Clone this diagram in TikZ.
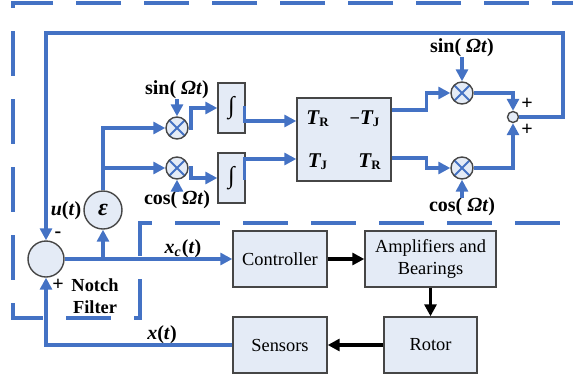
\documentclass[tikz,border=0pt]{standalone}
\usepackage{fontspec}
\setmainfont{Liberation Serif}
\usetikzlibrary{arrows.meta,calc}
\definecolor{lineblue}{RGB}{68,114,196}
\definecolor{boxfill}{RGB}{228,235,246}
\definecolor{boxdraw}{RGB}{70,70,70}
\newcommand{\Tm}[1]{{\fontsize{10.5}{12}\selectfont\bfseries\itshape T}\textsubscript{\bfseries #1}}
\newcommand{\fnoft}[1]{\textbf{\textit{#1}(\textit{t})}}
\tikzset{
  blk/.style={draw=boxdraw,fill=boxfill,line width=0.7pt,inner sep=0pt,align=center},
  sig/.style={draw=lineblue,line width=1.6pt,-{Triangle[length=6pt,width=6pt]}},
  pw/.style={draw=black,line width=1.6pt,-{Triangle[length=6pt,width=6pt]}},
  mult/.style={blk,circle,minimum size=11pt,path picture={
    \draw[lineblue,line width=0.9pt] (path picture bounding box.north west) -- (path picture bounding box.south east)
      (path picture bounding box.north east) -- (path picture bounding box.south west);}},
  lbl/.style={font=\bfseries,inner sep=0pt},
}
\begin{document}
\begin{tikzpicture}[x=0.5pt,y=-0.5pt,every node/.style={font=\fontsize{9.2}{11}\selectfont}]
\useasboundingbox (0,0) rectangle (573,376);
% notch filter boundary
\draw[lineblue,line width=1.6pt,dash pattern=on 22.5pt off 11.5pt,dash phase=12pt]
  (573,3) -- (13,3) -- (13,318) -- (140,318) -- (140,223) -- (573,223);
% blocks
\node[blk,circle,minimum size=18pt] (sum1) at (46,259) {};
\node[blk,circle,minimum size=19pt,font=\fontsize{12}{12}\selectfont] (eps) at (103,210) {\textbf{\textit{ε}}};
\node[mult] (msin1) at (177,128) {};
\node[mult] (mcos1) at (177,168) {};
\node[blk,minimum width=13.5pt,minimum height=25pt,font=\fontsize{12}{12}\selectfont] (int1) at (231.5,108) {∫};
\node[blk,minimum width=13.5pt,minimum height=25pt,font=\fontsize{12}{12}\selectfont] (int2) at (231.5,178) {∫};
\node[blk,minimum width=47pt,minimum height=41.5pt] (mat) at (344,139.5) {};
\node (t11) at (318,119) {\Tm{R}};
\node (t12) at (365,119) {\textbf{−}\Tm{J}};
\node (t21) at (318,162) {\Tm{J}};
\node (t22) at (370,162) {\Tm{R}};
\node[mult] (msin2) at (462,93) {};
\node[mult] (mcos2) at (462,168) {};
\node[blk,circle,minimum size=5.5pt] (jsum) at (513,117) {};
\node[blk,minimum width=47pt,minimum height=28pt] (ctrl) at (280,259) {Controller};
\node[blk,minimum width=65.5pt,minimum height=28pt] (amp) at (430.5,259) {Amplifiers and\\Bearings};
\node[blk,minimum width=46.5pt,minimum height=28pt] (rotor) at (430.5,345) {Rotor};
\node[blk,minimum width=47pt,minimum height=28pt] (sens) at (280,345) {Sensors};
% labels
\node[lbl] (lsin1) at (177,90) {sin( \textit{Ωt})};
\node[lbl] (lcos1) at (177,200) {cos( \textit{Ωt})};
\node[lbl] (lsin2) at (462,48) {sin( \textit{Ωt})};
\node[lbl] (lcos2) at (462,207) {cos( \textit{Ωt})};
\node[lbl] (lu) at (66,211) {\fnoft{u}};
\node[lbl] (lx) at (162,335) {\fnoft{x}};
\node[lbl] (lxc) at (183,249) {\textbf{\textit{x}\textsubscript{\textit{c}}(\textit{t})}};
\node[lbl] (lminus) at (58,235) {-};
\node[lbl] (lplus1) at (58,285) {+};
\node[lbl] (lplus2) at (527,104) {+};
\node[lbl] (lplus3) at (527,130) {+};
\node[lbl,align=center,font=\fontsize{9.2}{11}\selectfont\bfseries] (lnotch) at (95,296) {Notch\\Filter};
% signal paths
\coordinate (ctop) at (563,33);
\coordinate (br) at (103,259);
\draw[sig] (jsum) -| (ctop) -| (sum1);
\draw[sig] (sum1) -- (ctrl);
\draw[sig] (br) -- (eps);
\draw[sig] (eps) |- (msin1);
\draw[sig] (eps.north |- mcos1) -- (mcos1);
\draw[sig] (lsin1) -- (msin1);
\draw[sig] (lcos1) -- (mcos1);
\draw[sig] (msin1) -- ++(14,0) |- (int1);
\draw[sig] (mcos1) -- ++(14,0) |- (int2);
\draw[sig] (int1) -- ++(13,0) |- ($(mat.west)+(0,-18.5)$);
\draw[sig] (int2) -- ++(13,0) |- ($(mat.west)+(0,19.5)$);
\draw[sig] ($(mat.east)+(0,-29.5)$) -- ++(35,0) |- (msin2);
\draw[sig] ($(mat.east)+(0,18.5)$) -- ++(35,0) |- (mcos2);
\draw[sig] (lsin2) -- (msin2);
\draw[sig] (lcos2) -- (mcos2);
\draw[sig] (msin2) -| (jsum);
\draw[sig] (mcos2) -| (jsum);
\draw[pw] (ctrl) -- (amp);
\draw[pw] (amp) -- (rotor);
\draw[pw] (rotor) -- (sens);
\draw[sig] (sens) -| (sum1);
\end{tikzpicture}
\end{document}
